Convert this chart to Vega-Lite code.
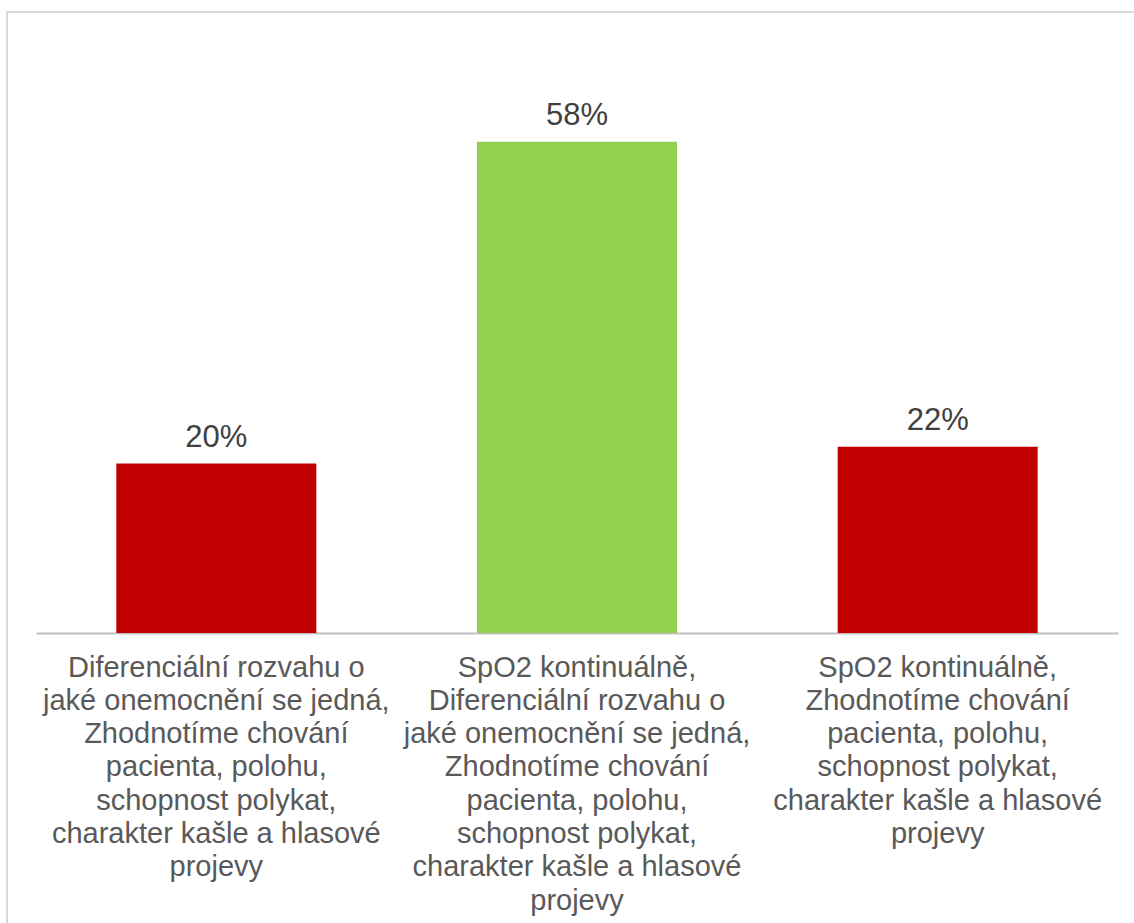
{
  "$schema": "https://vega.github.io/schema/vega-lite/v6.json",
  "autosize": {"type": "none"},
  "padding": {"left": 7, "top": 12, "right": 0, "bottom": 0},
  "width": 1140,
  "height": 930,
  "background": "white",
  "config": {
    "view": {"stroke": "#d9d9d9", "strokeWidth": 2},
    "font": "Liberation Sans"
  },
  "data": {
    "values": [
      {"answer": "Diferenciální rozvahu o|jaké onemocnění se jedná,|Zhodnotíme chování|pacienta, polohu,|schopnost polykat,|charakter kašle a hlasové|projevy", "share": 0.20},
      {"answer": "SpO2 kontinuálně,|Diferenciální rozvahu o|jaké onemocnění se jedná,|Zhodnotíme chování|pacienta, polohu,|schopnost polykat,|charakter kašle a hlasové|projevy", "share": 0.58},
      {"answer": "SpO2 kontinuálně,|Zhodnotíme chování|pacienta, polohu,|schopnost polykat,|charakter kašle a hlasové|projevy", "share": 0.22}
    ]
  },
  "encoding": {
    "x": {
      "field": "answer",
      "type": "nominal",
      "sort": null,
      "scale": {"range": [29, 1111], "paddingInner": 0.4455, "paddingOuter": 0.2227},
      "axis": {
        "title": null,
        "orient": "bottom",
        "offset": -309,
        "domainColor": "#bfbfbf",
        "domainWidth": 2,
        "ticks": false,
        "labelAngle": 0,
        "labelExpr": "split(datum.value, '|')",
        "labelFontSize": 29,
        "labelColor": "#595959",
        "labelLineHeight": 33.3,
        "labelLimit": 0,
        "labelPadding": 20,
        "labelBaseline": "top"
      }
    },
    "y": {
      "field": "share",
      "type": "quantitative",
      "scale": {"domain": [0, 0.7], "range": [621, 28], "nice": false},
      "axis": null
    }
  },
  "layer": [
    {
      "mark": {"type": "bar"},
      "encoding": {
        "color": {
          "field": "answer",
          "type": "nominal",
          "sort": null,
          "scale": {"range": ["#C00000", "#92D050", "#C00000"]},
          "legend": null
        }
      }
    },
    {
      "mark": {"type": "text", "baseline": "alphabetic", "dy": -17, "fontSize": 31, "color": "#404040"},
      "encoding": {
        "text": {"field": "share", "type": "quantitative", "format": ".0%"}
      }
    }
  ]
}
